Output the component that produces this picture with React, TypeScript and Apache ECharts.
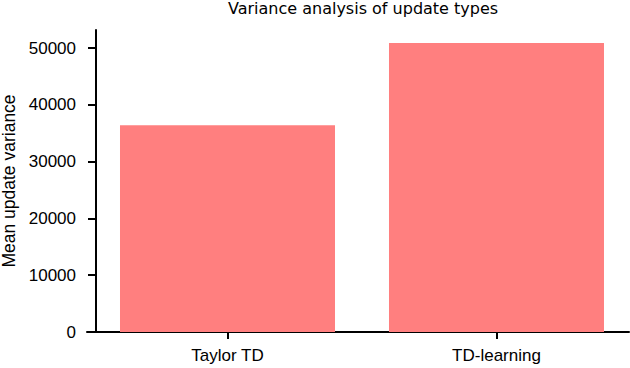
import React, { useEffect, useRef } from "react";
import * as echarts from "echarts";

const categories = ["Taylor TD", "TD-learning"];
const meanVariance = [36400, 50900];
const yTicks = [0, 10000, 20000, 30000, 40000, 50000];
const xTicks = [0, 1];

export default function App() {
  const ref = useRef<HTMLDivElement>(null);
  useEffect(() => {
    const chart = echarts.init(ref.current!, null, { renderer: "svg" });
    const font = "Liberation Sans";
    chart.setOption({
      animation: false,
      title: {
        text: "Variance analysis of update types",
        left: 228,
        top: 0,
        padding: 0,
        textStyle: {
          fontFamily: "DejaVu Sans",
          fontSize: 16,
          fontWeight: "normal",
          color: "#000",
        },
      },
      grid: {
        left: 87,
        right: 1,
        top: 30,
        bottom: 36,
        containLabel: false,
        outerBoundsMode: "none",
      },
      xAxis: {
        type: "value",
        min: -0.5223,
        max: 1.4926,
        splitLine: { show: false },
        axisLine: { show: true, onZero: false, lineStyle: { color: "#000", width: 2 } },
        axisTick: {
          show: true,
          inside: false,
          length: 7,
          customValues: xTicks,
          lineStyle: { color: "#000", width: 2 },
        },
        axisLabel: {
          customValues: xTicks,
          formatter: (v: number) => categories[Math.round(v)] ?? "",
          margin: 15,
          fontFamily: font,
          fontSize: 17,
          color: "#000",
        },
      },
      yAxis: {
        type: "value",
        min: 0,
        max: 53200,
        offset: -9,
        name: "Mean update variance",
        nameLocation: "middle",
        nameGap: 74,
        nameTextStyle: { fontFamily: font, fontSize: 17.5, color: "#000" },
        splitLine: { show: false },
        axisLine: { show: true, onZero: false, lineStyle: { color: "#000", width: 2 } },
        axisTick: {
          show: true,
          length: 8,
          customValues: yTicks,
          lineStyle: { color: "#000", width: 2 },
        },
        axisLabel: {
          customValues: yTicks,
          formatter: (v: number) => String(v),
          margin: 20,
          fontFamily: font,
          fontSize: 17,
          color: "#000",
        },
      },
      series: [
        {
          type: "bar",
          data: meanVariance.map((v, i) => [i, v]),
          barWidth: 215,
          itemStyle: { color: "#ff7f7f" },
        },
      ],
    });
    return () => chart.dispose();
  }, []);
  return <div ref={ref} style={{ width: 630, height: 368, position: "absolute", left: 0, top: 0 }} />;
}
